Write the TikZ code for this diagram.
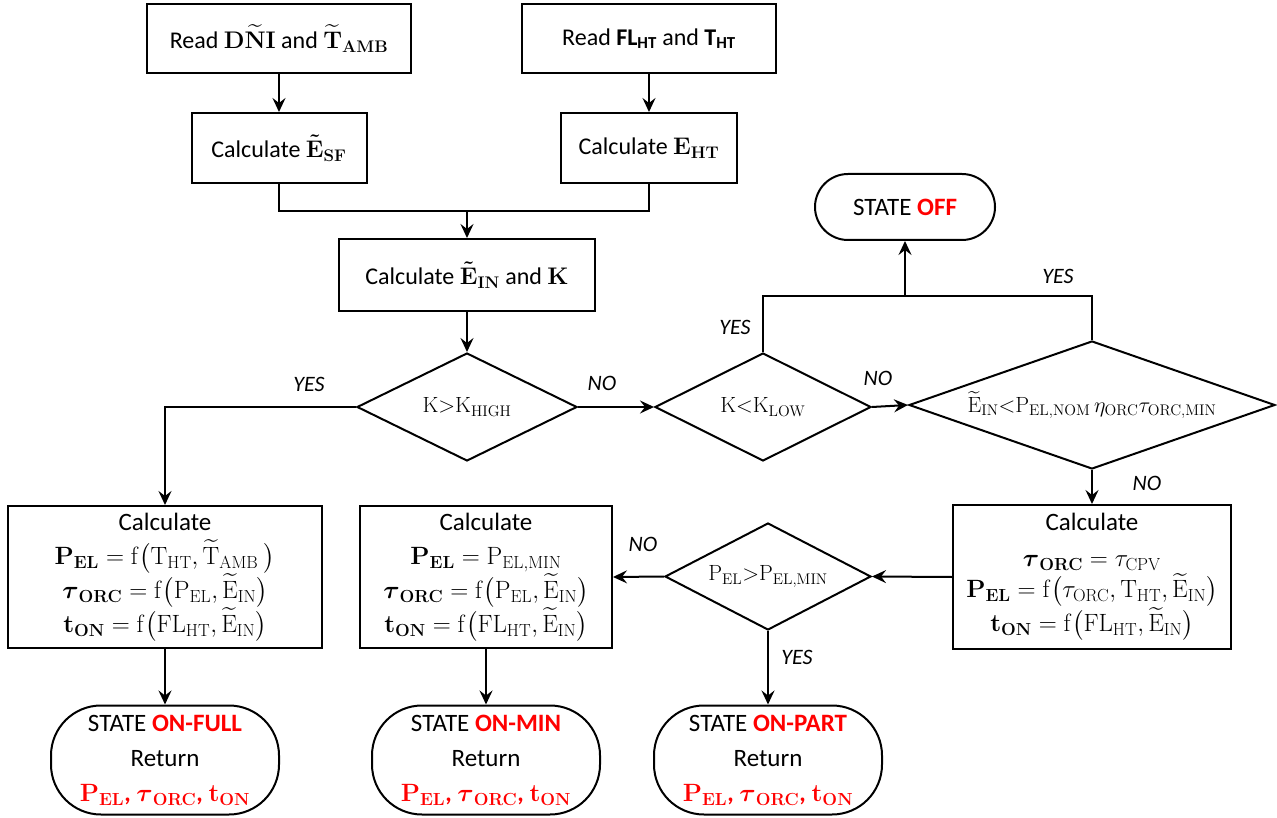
\RequirePackage{fix-cm}
\documentclass[tikz,border=0pt]{standalone}
\usepackage{amsmath}
\usepackage[no-math]{fontspec}
\setmainfont{Carlito}
\usetikzlibrary{shapes.geometric,arrows.meta}
\definecolor{offred}{RGB}{255,0,0}
\newcommand{\bE}{\boldsymbol{\tilde{\mathbf{E}}}}
\newcommand{\tE}{\widetilde{\mathrm{E}}}
\begin{document}
\begin{tikzpicture}[x=1pt,y=-1pt,
  box/.style={draw, line width=2pt, rectangle, inner sep=0pt, align=center, font=\fontsize{24}{28}\selectfont},
  bigbox/.style={draw, line width=2pt, rectangle, inner sep=0pt, align=center, font=\fontsize{25}{34}\selectfont},
  dec/.style={draw, line width=2pt, diamond, inner sep=0pt},
  dtext/.style={inner sep=0pt, font=\fontsize{22}{26}\selectfont},
  term/.style={draw, line width=2pt, rectangle, inner sep=0pt, align=center, font=\fontsize{25}{35}\selectfont},
  lab/.style={font=\fontsize{22}{26}\selectfont\itshape, inner sep=0pt},
  ln/.style={line width=2pt},
  arr/.style={line width=2pt, -{Stealth[length=14pt,width=13pt,inset=5pt]}}]
\useasboundingbox (0,0) rectangle (1277,818);

% top boxes
\node[box, minimum width=264, minimum height=69] (r1) at (279,38.5)
  {Read $\mathbf{D}\widetilde{\mathbf{N}}\mathbf{I}$ and $\boldsymbol{\widetilde{\mathbf{T}}}_{\mathbf{AMB}}$};
\node[box, minimum width=254, minimum height=69] (r2) at (649,38.5)
  {Read \textbf{FL}\textsubscript{\textbf{HT}} and \textbf{T}\textsubscript{\textbf{HT}}};
\node[box, minimum width=175, minimum height=70] (c1) at (279,148)
  {Calculate $\bE_{\mathbf{SF}}$};
\node[box, minimum width=176, minimum height=70] (c2) at (649,148)
  {Calculate $\mathbf{E}_{\mathbf{HT}}$};
\node[box, minimum width=256, minimum height=72] (c3) at (467,275)
  {Calculate $\bE_{\mathbf{IN}}$ and $\mathbf{K}$};

% decisions
\node[dec, minimum width=220, minimum height=108] (d1) at (467,407) {};
\node[dtext] (d1t) at (d1) {$\mathrm{K}\mathord{>}\mathrm{K}_{\mathrm{HIGH}}$};
\node[dec, minimum width=216, minimum height=108] (d2) at (763,407) {};
\node[dtext] (d2t) at (d2) {$\mathrm{K}\mathord{<}\mathrm{K}_{\mathrm{LOW}}$};
\node[dec, minimum width=366, minimum height=128] (d3) at (1092,405) {};
\node[dtext] (d3t) at (d3) {$\tE_{\mathrm{IN}}\mathord{<}\mathrm{P}_{\mathrm{EL,NOM}}\,\eta_{\mathrm{ORC}}\tau_{\mathrm{ORC,MIN}}$};
\node[dec, minimum width=206, minimum height=107] (d4) at (768,576.5) {};
\node[dtext] (d4t) at (d4) {$\mathrm{P}_{\mathrm{EL}}\mathord{>}\mathrm{P}_{\mathrm{EL,MIN}}$};

% state off
\node[term, minimum width=180, minimum height=66, rounded corners=33] (off) at (905,207)
  {STATE \textcolor{offred}{\textbf{OFF}}};

% calculation boxes
\node[bigbox, minimum width=314, minimum height=142] (bL) at (165,577)
  {Calculate\\
   $\mathbf{P}_{\mathbf{EL}} = \mathrm{f}\bigl(\mathrm{T}_{\mathrm{HT}}, \widetilde{\mathrm{T}}_{\mathrm{AMB}}\ \bigr)$\\
   $\boldsymbol{\tau}_{\mathbf{ORC}} = \mathrm{f}\bigl(\mathrm{P}_{\mathrm{EL}}, \tE_{\mathrm{IN}}\bigr)$\\
   $\mathbf{t}_{\mathbf{ON}} = \mathrm{f}\bigl(\mathrm{FL}_{\mathrm{HT}}, \tE_{\mathrm{IN}}\bigr)$};
\node[bigbox, minimum width=252, minimum height=142] (bM) at (486,577)
  {Calculate\\
   $\mathbf{P}_{\mathbf{EL}} = \mathrm{P}_{\mathrm{EL,MIN}}$\\
   $\boldsymbol{\tau}_{\mathbf{ORC}} = \mathrm{f}\bigl(\mathrm{P}_{\mathrm{EL}}, \tE_{\mathrm{IN}}\bigr)$\\
   $\mathbf{t}_{\mathbf{ON}} = \mathrm{f}\bigl(\mathrm{FL}_{\mathrm{HT}}, \tE_{\mathrm{IN}}\bigr)$};
\node[bigbox, minimum width=278, minimum height=144, font=\fontsize{25}{31}\selectfont] (bR) at (1092,577)
  {Calculate\\[5pt]
   $\boldsymbol{\tau}_{\mathbf{ORC}} = \tau_{\mathrm{CPV}}$\\
   $\mathbf{P}_{\mathbf{EL}} = \mathrm{f}\bigl(\tau_{\mathrm{ORC}}, \mathrm{T}_{\mathrm{HT}}, \tE_{\mathrm{IN}}\bigr)$\\
   $\mathbf{t}_{\mathbf{ON}} = \mathrm{f}\bigl(\mathrm{FL}_{\mathrm{HT}}, \tE_{\mathrm{IN}}\bigr)$};

% terminals
\node[term, minimum width=228, minimum height=109, rounded corners=50] (tF) at (165,760)
  {STATE \textcolor{offred}{\textbf{ON-FULL}}\\ Return\\
   \textcolor{offred}{$\mathbf{P}_{\mathbf{EL}}$\textbf{,} $\boldsymbol{\tau}_{\mathbf{ORC}}$\textbf{,} $\mathbf{t}_{\mathbf{ON}}$}};
\node[term, minimum width=228, minimum height=109, rounded corners=50] (tM) at (486,760)
  {STATE \textcolor{offred}{\textbf{ON-MIN}}\\ Return\\
   \textcolor{offred}{$\mathbf{P}_{\mathbf{EL}}$\textbf{,} $\boldsymbol{\tau}_{\mathbf{ORC}}$\textbf{,} $\mathbf{t}_{\mathbf{ON}}$}};
\node[term, minimum width=228, minimum height=109, rounded corners=50] (tP) at (768,760)
  {STATE \textcolor{offred}{\textbf{ON-PART}}\\ Return\\
   \textcolor{offred}{$\mathbf{P}_{\mathbf{EL}}$\textbf{,} $\boldsymbol{\tau}_{\mathbf{ORC}}$\textbf{,} $\mathbf{t}_{\mathbf{ON}}$}};

% junctions
\coordinate (m) at (467,211);
\coordinate (j) at (905,296);

% connectors
\draw[arr] (r1) -- (c1);
\draw[arr] (r2) -- (c2);
\draw[ln] (c1.south) |- (m) -| (c2.south);
\draw[arr] (m) -- (c3.north);
\draw[arr] (c3) -- (d1);
\draw[arr] (d1.west) -| (bL.north);
\draw[arr] (d1.east) -- (d2.west);
\draw[arr] (d2.east) -- (d3.west);
\draw[ln] (d2.north) |- (j) -| (d3.north);
\draw[arr] (j) -- (off.south);
\draw[arr] (d3.south) -- (bR.north);
\draw[arr] (bR.west) -- (d4.east);
\draw[arr] (d4.west) -- (bM.east);
\draw[arr] (d4.south) -- (tP.north);
\draw[arr] (bL.south) -- (tF.north);
\draw[arr] (bM.south) -- (tM.north);

% labels
\node[lab] (l1) at (309,384) {YES};
\node[lab] (l2) at (602,383) {NO};
\node[lab] (l3) at (735,327) {YES};
\node[lab] (l4) at (878,378) {NO};
\node[lab] (l5) at (1058,276) {YES};
\node[lab] (l6) at (1147,483) {NO};
\node[lab] (l7) at (643,544) {NO};
\node[lab] (l8) at (797,657) {YES};
\end{tikzpicture}
\end{document}
